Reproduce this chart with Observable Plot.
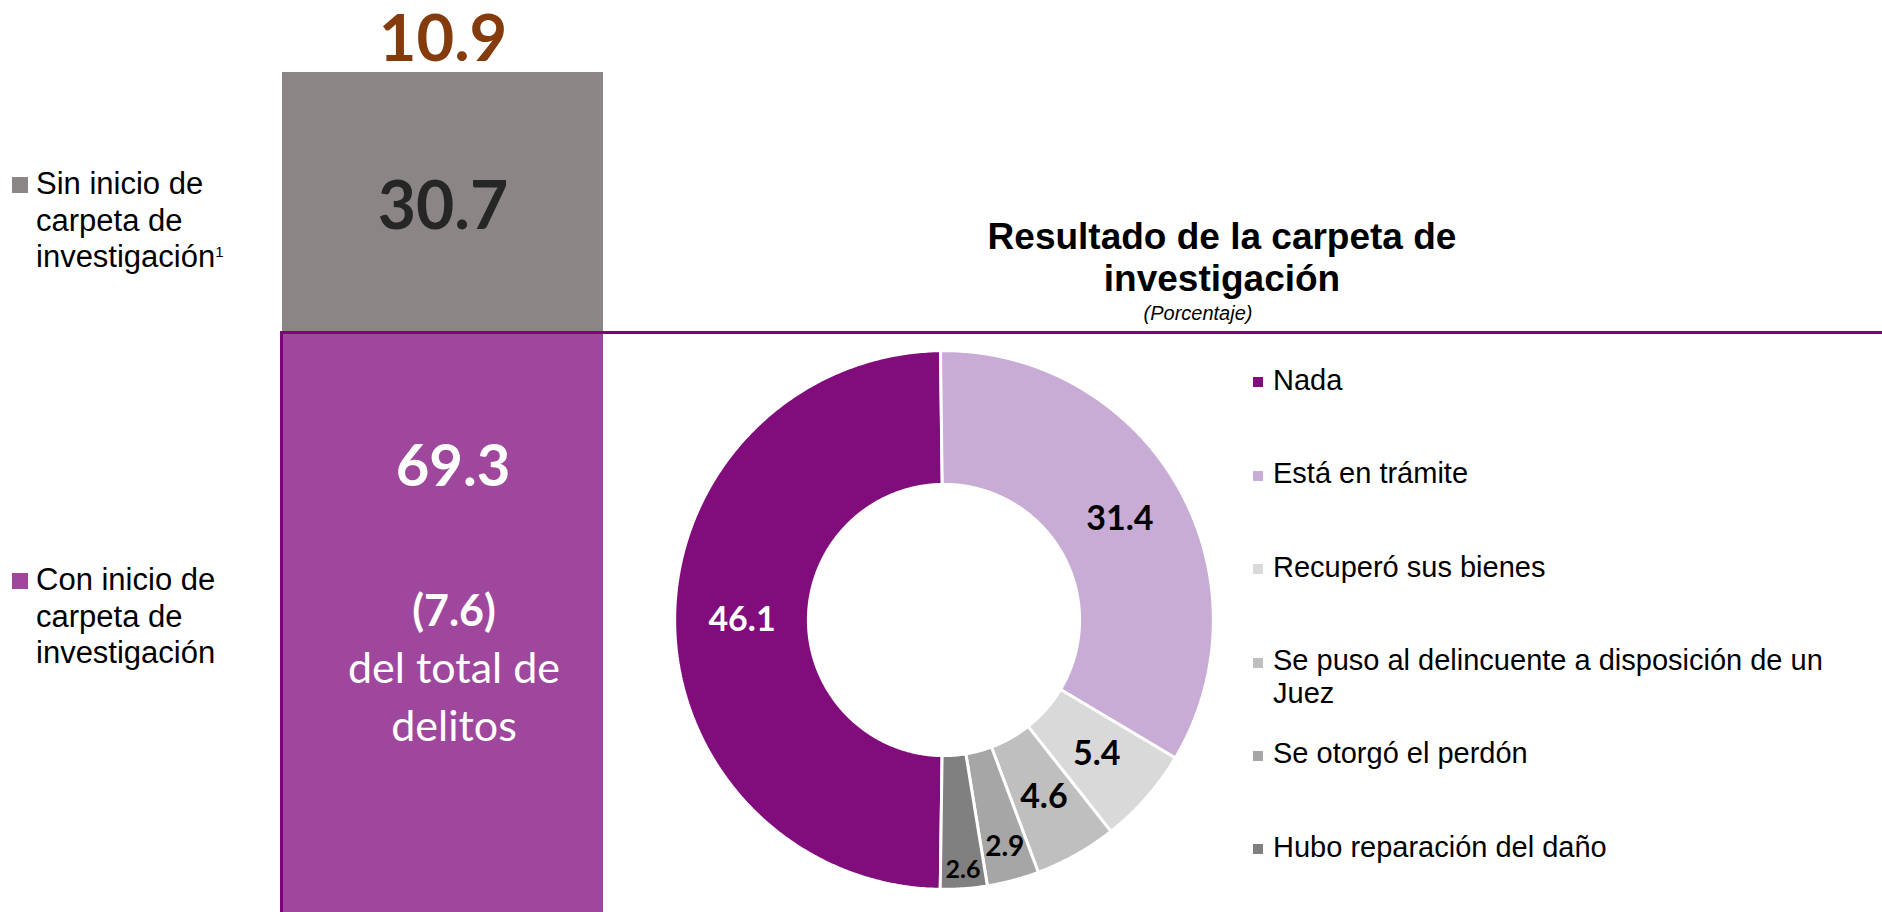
<!DOCTYPE html>
<html>
<head>
<meta charset="utf-8">
<script src="https://cdn.jsdelivr.net/npm/d3@7"></script>
<script src="https://cdn.jsdelivr.net/npm/@observablehq/plot@0.6"></script>
<style>
  html, body { margin: 0; padding: 0; background: #fff; }
  body { width: 1882px; height: 912px; overflow: hidden; position: relative;
         font-family: "Liberation Sans", Arial, sans-serif; color: #000; }
  .abs { position: absolute; }
  .legL { position: absolute; left: 36px; font-size: 31px; line-height: 36.5px; white-space: nowrap; }
  .sqL { position: absolute; left: 12px; width: 16px; height: 16px; }
  .tline { position: absolute; left: 822px; width: 800px; text-align: center;
           font-weight: bold; font-size: 37px; line-height: 34px; white-space: nowrap; }
  .sub { position: absolute; left: 1098px; width: 200px; top: 304px; text-align: center;
         font-style: italic; font-size: 20px; line-height: 18px; white-space: nowrap; }
  .legR { position: absolute; left: 1253px; font-size: 29px; line-height: 33px; white-space: nowrap; }
  .legR .sq { position: absolute; left: 0; top: 13.5px; width: 10px; height: 10px; }
  .legR .tx { position: absolute; left: 20px; top: 0; }
  .frame { position: absolute; left: 280px; top: 331px; width: 1610px; height: 700px;
           border-top: 3px solid #800080; border-left: 3px solid #800080; box-sizing: border-box; }
</style>
</head>
<body>
<div id="barra" class="abs" style="left:0;top:0;width:640px;"></div>
<div id="anillo" class="abs" style="left:664px;top:340px;width:560px;"></div>
<div class="frame"></div>
<div id="leyendaIzq"></div>
<div id="titulo"></div>
<div id="leyendaDer"></div>
<script>
// ---------- DATA ----------
const gruposBarra = ["Con inicio de carpeta de investigación", "Sin inicio de carpeta de investigación"];
const porcentajesBarra = [69.3, 30.7];
const coloresBarra = ["#9f479d", "#8b8585"];
const lineasLeyendaIzq = [
  ["Con inicio de", "carpeta de", "investigación"],
  ["Sin inicio de", "carpeta de", "investigación"]
];
const notaLeyendaIzq = ["", "1"];
const valorSuperior = 10.9;
const valorDelTotal = 7.6;
const textoDelTotal = ["del total de", "delitos"];

const tituloLineas = ["Resultado de la carpeta de", "investigación"];
const subtitulo = "(Porcentaje)";
const categoriasResultado = [
  "Nada",
  "Está en trámite",
  "Recuperó sus bienes",
  "Se puso al delincuente a disposición de un Juez",
  "Se otorgó el perdón",
  "Hubo reparación del daño"
];
const lineasLeyendaDer = [
  ["Nada"], ["Está en trámite"], ["Recuperó sus bienes"],
  ["Se puso al delincuente a disposición de un", "Juez"],
  ["Se otorgó el perdón"], ["Hubo reparación del daño"]
];
const valoresResultado = [46.1, 31.4, 5.4, 4.6, 2.9, 2.6];
const coloresResultado = ["#810c7c", "#c8acd6", "#d9d9d9", "#bfbfbf", "#a6a6a6", "#808080"];
const coloresEtiqueta = ["#ffffff", "#000000", "#000000", "#000000", "#000000", "#000000"];

// ---------- BAR ----------
const fmt = d3.format(".1f");
const datosBarra = gruposBarra.map((g, i) => ({grupo: g, valor: porcentajesBarra[i], col: "Total"}));
const total = d3.sum(porcentajesBarra);
const numFont = "Lato, 'Open Sans', sans-serif";

const barPlot = Plot.plot({
  width: 640, height: 919,
  marginTop: 72, marginBottom: 0, marginLeft: 282, marginRight: 37,
  x: {axis: null, padding: 0, domain: ["Total"]},
  y: {axis: null, domain: [0, total]},
  color: {domain: gruposBarra, range: coloresBarra},
  style: {background: "transparent", overflow: "visible"},
  marks: [
    Plot.barY(datosBarra, {x: "col", y: "valor", fill: "grupo"}),
    Plot.text([valorSuperior], {x: () => "Total", y: () => total, text: d => fmt(d),
      lineAnchor: "bottom", dy: -12, fill: "#843c0c", fontSize: 65, fontWeight: "bold", fontFamily: numFont}),
    Plot.text([datosBarra[1]], {x: "col", y: d => porcentajesBarra[0] + d.valor / 2, text: d => fmt(d.valor),
      lineAnchor: "bottom", dy: 26, fill: "#262626", fontSize: 66, fontWeight: "bold", fontFamily: numFont}),
    Plot.text([datosBarra[0]], {x: "col", y: d => d.valor, text: d => fmt(d.valor),
      lineAnchor: "bottom", dy: 153, dx: 10, fill: "#ffffff", fontSize: 58, fontWeight: "bold", fontFamily: numFont}),
    Plot.text([valorDelTotal], {x: () => "Total", y: () => porcentajesBarra[0], text: d => `(${fmt(d)})`,
      lineAnchor: "bottom", dy: 293, dx: 11, fill: "#ffffff", fontSize: 43, fontWeight: "bold", fontFamily: numFont}),
    Plot.text([textoDelTotal[0]], {x: () => "Total", y: () => porcentajesBarra[0], text: d => d,
      lineAnchor: "bottom", dy: 350, dx: 11, fill: "#ffffff", fontSize: 43, fontFamily: numFont}),
    Plot.text([textoDelTotal[1]], {x: () => "Total", y: () => porcentajesBarra[0], text: d => d,
      lineAnchor: "bottom", dy: 408, dx: 11, fill: "#ffffff", fontSize: 43, fontFamily: numFont})
  ]
});
document.getElementById("barra").append(barPlot);

// ---------- LEFT LEGEND ----------
const legIzq = document.getElementById("leyendaIzq");
const topsIzq = [562, 166];
const sqIzq = [573, 177];
gruposBarra.forEach((g, i) => {
  const sq = document.createElement("div");
  sq.className = "sqL";
  sq.style.top = sqIzq[i] + "px";
  sq.style.background = coloresBarra[i];
  legIzq.append(sq);
  const tx = document.createElement("div");
  tx.className = "legL";
  tx.style.top = topsIzq[i] + "px";
  const lines = lineasLeyendaIzq[i];
  tx.innerHTML = lines.map((l, k) => k === lines.length - 1 && notaLeyendaIzq[i]
    ? `${l}<span style="font-size:15px;vertical-align:10px;line-height:0">${notaLeyendaIzq[i]}</span>` : l).join("<br>");
  legIzq.append(tx);
});

// ---------- TITLE ----------
const tit = document.getElementById("titulo");
const titleTops = [220, 262];
tituloLineas.forEach((l, i) => {
  const d = document.createElement("div");
  d.className = "tline";
  d.style.top = titleTops[i] + "px";
  d.textContent = l;
  tit.append(d);
});
const t2 = document.createElement("div");
t2.className = "sub";
t2.textContent = subtitulo;
tit.append(t2);

// ---------- DOUGHNUT ----------
const datosResultado = categoriasResultado.map((c, i) => ({cat: c, valor: valoresResultado[i], colorEtiqueta: coloresEtiqueta[i]}));
const inicio = 180.8 * Math.PI / 180;
const arcos = d3.pie().sort(null).value(d => d.valor).startAngle(inicio).endAngle(inicio + 2 * Math.PI)(datosResultado);
const rInt = 0.506, rExt = 1.005;
const puntos = arcos.flatMap(a => {
  const n = Math.max(2, Math.ceil((a.endAngle - a.startAngle) / (Math.PI / 360)));
  return d3.range(n + 1).map(k => {
    const t = a.startAngle + (a.endAngle - a.startAngle) * k / n;
    return {cat: a.data.cat,
      xi: rInt * Math.sin(t), yi: rInt * Math.cos(t),
      xo: rExt * Math.sin(t), yo: rExt * Math.cos(t)};
  });
});
const etiquetas = arcos.map(a => {
  const v = a.data.valor;
  const f = v < 3.5 ? 0.5 + (3.5 - v) * 0.4 : 0.5;
  const r = rInt + (rExt - rInt) * f;
  const t = (a.startAngle + a.endAngle) / 2;
  return {x: r * Math.sin(t), y: r * Math.cos(t), texto: fmt(v),
          size: v < 3.5 ? 34 - (3.5 - v) * 10 : 34, color: a.data.colorEtiqueta};
});

const piePlot = Plot.plot({
  width: 560, height: 560, margin: 12,
  x: {axis: null, domain: [-1, 1]},
  y: {axis: null, domain: [-1, 1]},
  color: {domain: categoriasResultado, range: coloresResultado},
  style: {background: "transparent", overflow: "visible"},
  marks: [
    Plot.area(puntos, {x1: "xi", y1: "yi", x2: "xo", y2: "yo", z: "cat", fill: "cat",
      stroke: "#ffffff", strokeWidth: 3, strokeLinejoin: "miter"}),
    ...etiquetas.map(e => Plot.text([e], {x: "x", y: "y", text: "texto", fill: e.color,
      fontSize: e.size, fontWeight: "bold", fontFamily: numFont}))
  ]
});
document.getElementById("anillo").append(piePlot);

// ---------- RIGHT LEGEND ----------
const legDer = document.getElementById("leyendaDer");
categoriasResultado.forEach((c, i) => {
  const it = document.createElement("div");
  it.className = "legR";
  it.style.top = (363.8 + 93.4 * i) + "px";
  const sq = document.createElement("div");
  sq.className = "sq";
  sq.style.background = coloresResultado[i];
  const tx = document.createElement("div");
  tx.className = "tx";
  tx.innerHTML = lineasLeyendaDer[i].join("<br>");
  it.append(sq, tx);
  legDer.append(it);
});
</script>
</body>
</html>
